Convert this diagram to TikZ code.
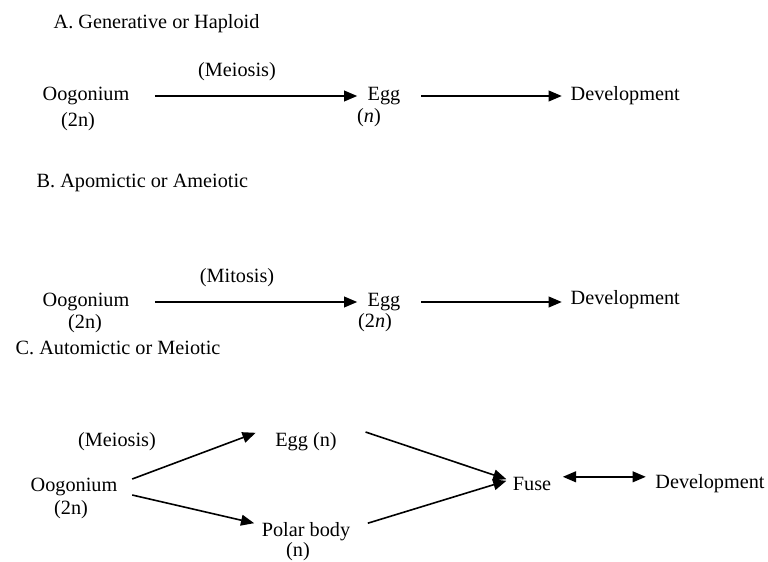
\documentclass[tikz,border=0pt]{standalone}
\usepackage{fontspec}
\setmainfont{Liberation Serif}
\usetikzlibrary{arrows.meta}

\tikzset{
  txt/.style={inner sep=1pt, font=\fontsize{14.4}{17}\selectfont},
  arr/.style={-{Triangle[length=.33cm,width=.27cm]}, line width=.04cm},
  darr/.style={{Triangle[length=.33cm,width=.27cm]}-{Triangle[length=.33cm,width=.27cm]}, line width=.04cm}
}

\begin{document}
\begin{tikzpicture}

\useasboundingbox (0,0) rectangle (19.2cm,-14.025cm);

% A
\node (titleA) at(1.3cm,-.6cm) [txt,anchor=west] {A. Generative or Haploid};
\node (meiA) at(5.925cm,-1.8cm) [txt] {(Meiosis)};
\node (oogA) at(2.15cm,-2.4cm) [txt] {Oogonium};
\node (ploA) at(1.95cm,-3.05cm) [txt] {(2n)};
\node (eggA) at(9.6cm,-2.4cm) [txt] {Egg};
\node (hapA) at(9.225cm,-2.95cm) [txt] {(\textit{n})};
\node (devA) at(14.225cm,-2.4cm) [txt,anchor=west] {Development};
\draw [arr,shorten <=.6cm,shorten >=.22cm] (oogA) -- (eggA);
\draw [arr,shorten <=.48cm,shorten >=.18cm] (eggA) -- (devA);

% B
\node (titleB) at(.875cm,-4.575cm) [txt,anchor=west] {B. Apomictic or Ameiotic};
\node (mitB) at(5.925cm,-6.95cm) [txt] {(Mitosis)};
\node (oogB) at(2.15cm,-7.55cm) [txt] {Oogonium};
\node (ploB) at(2.125cm,-8.1cm) [txt] {(2n)};
\node (eggB) at(9.6cm,-7.55cm) [txt] {Egg};
\node (dipB) at(9.375cm,-8.075cm) [txt] {(2\textit{n})};
\node (devB) at(14.225cm,-7.5cm) [txt,anchor=west] {Development};
\draw [arr,shorten <=.6cm,shorten >=.22cm] (oogB) -- (eggB);
\draw [arr,shorten <=.48cm,shorten >=.18cm] (eggB) -- (eggB -| devB.west);

% C
\node (titleC) at(.35cm,-8.7cm) [txt,anchor=west] {C. Automictic or Meiotic};
\node (meiC) at(2.925cm,-11.05cm) [txt] {(Meiosis)};
\node (oogC) at(1.85cm,-12.175cm) [txt] {Oogonium};
\node (ploC) at(1.775cm,-12.75cm) [txt] {(2n)};
\node (eggC) at(7.65cm,-11.05cm) [txt] {Egg (n)};
\node (polC) at(7.65cm,-13.3cm) [txt] {Polar body};
\node (hapC) at(7.45cm,-13.78cm) [txt] {(n)};
\node (fuse) at(13.3cm,-12.1cm) [txt] {Fuse};
\node (devC) at(17.75cm,-12.1cm) [txt] {Development};

\draw [arr] ([shift={(.33cm,.2cm)}]oogC.east) -- ([shift={(-.45cm,.23cm)}]eggC.west);
\draw [arr] ([shift={(.33cm,-.2cm)}]oogC.east) -- ([shift={(-.15cm,.22cm)}]polC.west);
\draw [arr] ([shift={(.68cm,.25cm)}]eggC.east) -- ([shift={(-.12cm,.12cm)}]fuse.west);
\draw [arr] ([shift={(.4cm,.22cm)}]polC.east) -- ([shift={(-.12cm,.08cm)}]fuse.west);
\draw [darr] ([shift={(.25cm,.18cm)}]fuse.east) -- ([shift={(-.2cm,.18cm)}]devC.west);

\end{tikzpicture}
\end{document}
